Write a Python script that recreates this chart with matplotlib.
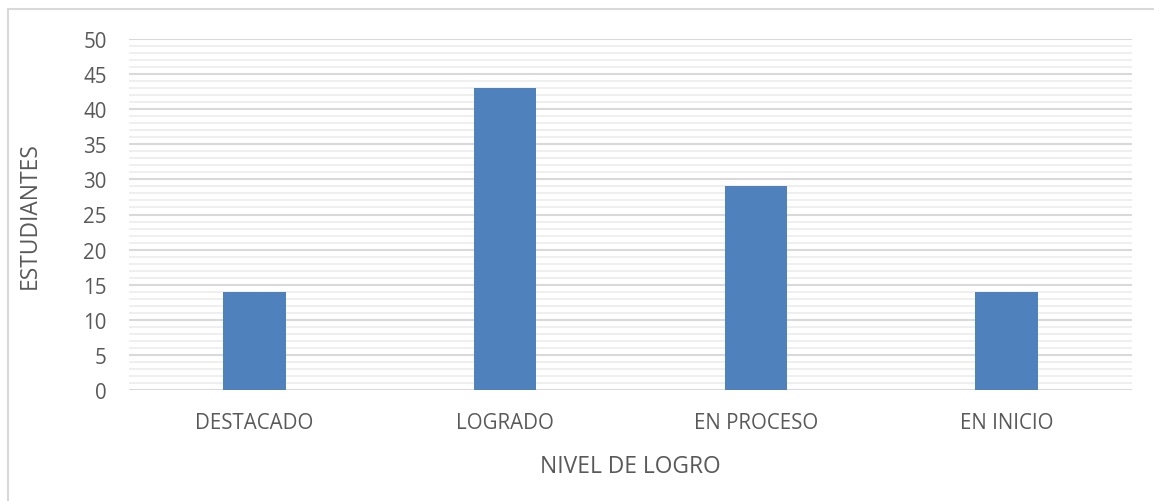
import numpy as np
import matplotlib.pyplot as plt
from matplotlib.patches import Rectangle
from matplotlib.ticker import MultipleLocator

categories = ['DESTACADO', 'LOGRADO', 'EN PROCESO', 'EN INICIO']
estudiantes = [14, 43, 29, 14]

plt.rcParams['font.family'] = ['Open Sans', 'DejaVu Sans']
txt = '#595959'

fig = plt.figure(figsize=(11.54, 5.02), dpi=100)
# chart border, cut off at right and bottom like the screenshot
fig.patches.append(Rectangle((8 / 1154, -0.1), 1.2, 1 - 10 / 502 + 0.1,
                             transform=fig.transFigure, fill=False,
                             edgecolor='#d9d9d9', linewidth=1.5))

ax = fig.add_axes([129 / 1154, 1 - 391 / 502, (1132 - 129) / 1154, (391 - 40) / 502])
x = np.arange(len(categories))
ax.bar(x, estudiantes, width=0.25, color='#4f81bd', zorder=3)

ax.set_xlim(-0.5, len(categories) - 0.5)
ax.set_ylim(0, 50)
ax.yaxis.set_major_locator(MultipleLocator(5))
ax.yaxis.set_minor_locator(MultipleLocator(1))
ax.grid(which='major', axis='y', color='#d9d9d9', linewidth=1.5, zorder=0)
ax.grid(which='minor', axis='y', color='#efefef', linewidth=1.4, zorder=0)
ax.set_xticks(x)
ax.set_xticklabels(categories)
ax.tick_params(axis='both', which='both', length=0, colors=txt, labelsize=14.8)
ax.tick_params(axis='x', pad=16)
ax.tick_params(axis='y', pad=16)
for s in ax.spines.values():
    s.set_visible(False)

ax.set_xlabel('NIVEL DE LOGRO', color=txt, fontsize=16.4, labelpad=15)
ax.set_ylabel('ESTUDIANTES', color=txt, fontsize=16.4)
ax.yaxis.set_label_coords(-0.087, 0.5)

fig.savefig('out.png', dpi=100)
